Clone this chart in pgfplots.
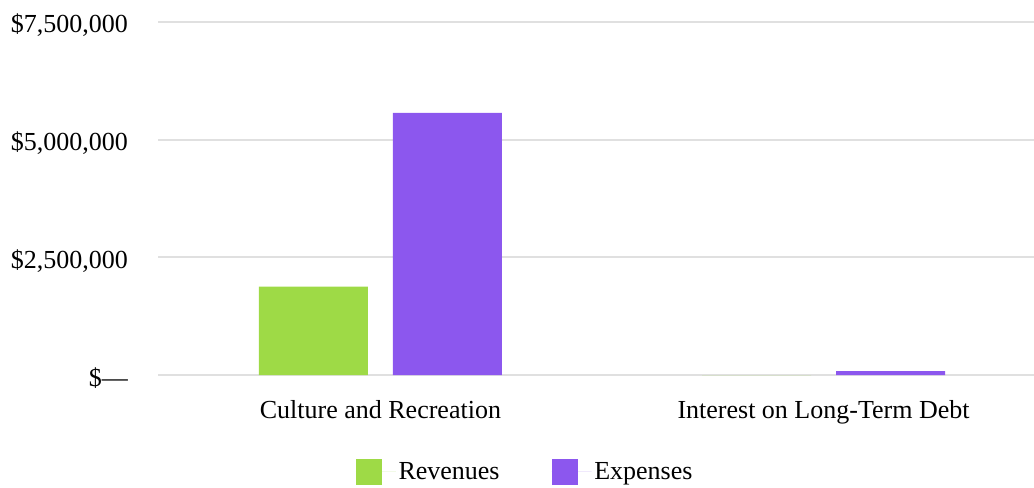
\documentclass[border=0pt]{standalone}
\usepackage{pgfplots}
\pgfplotsset{compat=1.18}
\usepackage{fontspec}
\setmainfont{Liberation Serif}
\definecolor{revgreen}{RGB}{158,218,70}
\definecolor{exppurple}{RGB}{140,87,238}
\definecolor{gridgray}{RGB}{224,224,224}
\begin{document}
\begin{tikzpicture}
\path[use as bounding box] (-118.5pt,-84pt) rectangle (657pt,281.25pt);
\begin{axis}[
    at={(0,0)}, anchor=south west,
    scale only axis,
    width=657pt, height=264.75pt,
    ybar=18.75pt,
    bar width=81.75pt,
    xmin=-0.502, xmax=1.475,
    ymin=0, ymax=7500000,
    xtick=data,
    xticklabels={Culture and Recreation, Interest on Long-Term Debt},
    ytick={0,2500000,5000000,7500000},
    yticklabels={{\$—}, {\$2,500,000}, {\$5,000,000}, {\$7,500,000}},
    scaled y ticks=false,
    axis line style={draw=none},
    major tick length=0pt,
    ymajorgrids,
    grid style={gridgray, line width=1.4pt},
    ticklabel style={font=\fontsize{19.5}{23}\selectfont},
    yticklabel style={xshift=-19pt, yshift=-2.5pt},
    xticklabel style={yshift=-15.5pt},
    legend style={
        at={(0.4195,-0.2745)},
        anchor=center,
        draw=none,
        legend columns=-1,
        font=\fontsize{19.5}{23}\selectfont,
        /tikz/every even column/.append style={column sep=37pt},
        legend cell align=left,
    },
    legend image code/.code={
        \fill[#1] (0pt,-9.75pt) rectangle (19.5pt,9.75pt);
        \path (0pt,0pt) -- (30pt,0pt); },
    clip=true,
    ]
\addplot[fill=revgreen, draw=none] coordinates { %revenues
(0, 1880000)
(1, 0)
} ;
\addplot[fill=exppurple, draw=none] coordinates { %expenses
(0, 5570000)
(1, 85000)
} ;
\legend{Revenues,Expenses}
\end{axis}
\end{tikzpicture}
\end{document}
